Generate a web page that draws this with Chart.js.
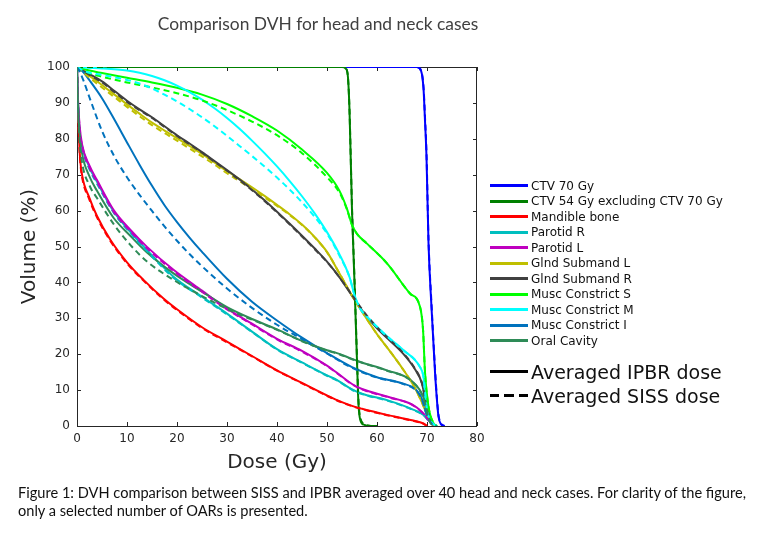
<!DOCTYPE html>
<html>
<head>
<meta charset="utf-8">
<title>Comparison DVH for head and neck cases</title>
<script src="https://cdn.jsdelivr.net/npm/chart.js@4.4.0/dist/chart.umd.min.js"></script>
<style>
  html, body { margin: 0; padding: 0; background: #fff; }
  #wrap { position: relative; width: 768px; height: 548px; overflow: hidden; }
  #dvh { position: absolute; left: 0; top: 0; }
  .title { position: absolute; left: 0; width: 636px; top: 13px; text-align: center;
           font: 17.4px Lato, sans-serif; color: #404040; }
  .legend { position: absolute; left: 490px; top: 178px; font: 12px "DejaVu Sans", sans-serif; color: #111; }
  .legend .row { display: flex; align-items: center; height: 15.5px; white-space: nowrap; }
  .legend .swatch { width: 38px; height: 3px; margin-right: 3px; }
  .legend .big { font-size: 19px; height: 24px; }
  .legend .big .swatch { height: 2.5px; }
  .legend .gap { height: 11px; }
  .caption { position: absolute; left: 18px; top: 484px; width: 750px; white-space: nowrap;
             font: 14.6px Lato, sans-serif; line-height: 17.5px; color: #111; }
</style>
</head>
<body>
<div id="wrap">
  <canvas id="dvh" width="768" height="548"></canvas>
  <div class="title">Comparison DVH for head and neck cases</div>
  <div class="legend" id="legend"></div>
  <div class="caption">Figure 1: DVH comparison between SISS and IPBR averaged over 40 head and neck cases. For clarity of the figure,<br>only a selected number of OARs is presented.</div>
</div>
<script>
// structures, in legend order
const names = ['CTV 70 Gy', 'CTV 54 Gy excluding CTV 70 Gy', 'Mandible bone', 'Parotid R', 'Parotid L',
  'Glnd Submand L', 'Glnd Submand R', 'Musc Constrict S', 'Musc Constrict M', 'Musc Constrict I', 'Oral Cavity'];
const colors = ['#0000ff', '#008000', '#ff0000', '#00bfbf', '#bf00bf',
  '#bfbf00', '#404040', '#00ff00', '#00ffff', '#0072bd', '#2e8b57'];

const doseTicks = [0, 10, 20, 30, 40, 50, 60, 70, 80];
const volumeTicks = [0, 10, 20, 30, 40, 50, 60, 70, 80, 90, 100];

// dose (Gy) -> volume (%), IPBR = solid, SISS = dashed
const ctv70Dose = [0, 68, 68.8, 69.3, 69.6, 69.9, 70.3, 70.9, 71.6, 72, 72.3, 72.8, 73.5];
const ctv70Ipbr = [100, 100, 99, 94, 85, 75, 51, 33, 15, 7, 2.6, 0.5, 0];
const ctv70Siss = [100, 100, 99, 94.5, 86, 76, 52, 34, 16, 7.5, 3, 0.7, 0];

const ctv54Dose = [0, 53, 53.8, 54.2, 54.5, 55, 55.5, 56, 56.3, 56.7, 57.5, 58.5, 60];
const ctv54Ipbr = [100, 100, 99.5, 97, 88, 60, 40, 18, 6, 1.5, 0.3, 0, 0];
const ctv54Siss = [100, 100, 99.5, 97, 88, 61, 41, 19, 7, 2, 0.5, 0.1, 0];

const mandibleDose = [0, 0.1, 0.3, 0.6, 1, 2.5, 4, 6.7, 10, 13.3, 17.3, 20, 25, 30, 35, 40, 45, 50, 52, 55, 57, 62, 67, 69.3, 70];
const mandibleIpbr = [100, 92, 84, 75, 70, 63.5, 58.5, 51.8, 45.6, 40.7, 35.5, 32.5, 27.5, 23.5, 19.5, 15.5, 12, 8.5, 7.2, 5.6, 4.8, 3.1, 1.6, 0.7, 0];
const mandibleSiss = [100, 91.5, 83.5, 74.5, 69.5, 63, 58.1, 51.5, 45.3, 40.5, 35.3, 32.3, 27.3, 23.3, 19.4, 15.4, 11.9, 8.4, 7.1, 5.5, 4.7, 3, 1.5, 0.6, 0];

const parotidDose = [0, 0.2, 0.5, 1, 2.5, 4, 7.3, 10.7, 14, 19.3, 25, 30, 35, 40, 45, 50, 52, 55, 57, 62, 67, 69.3, 70.6, 71.6];
const parotidRIpbr = [100, 90, 82.5, 78, 72, 68, 59.8, 54, 49, 41.6, 36, 31.3, 26.3, 21.4, 17.7, 14.1, 12.8, 10.2, 9, 7.2, 4.7, 3.1, 1.2, 0];
const parotidRSiss = [100, 89.5, 82, 77.5, 71.5, 67.5, 59.5, 53.7, 48.7, 41.3, 35.8, 31.1, 26.2, 21.3, 17.6, 14, 12.7, 10.1, 8.9, 7.1, 4.6, 3, 1.1, 0];
const parotidLIpbr = [100, 91, 84, 78.5, 72.5, 68.5, 60.2, 54.6, 49.9, 43.5, 37.7, 32.7, 28.5, 24.3, 20.9, 16.8, 14.8, 11.7, 10.3, 8.2, 6, 3.5, 1.2, 0];
const parotidLSiss = [100, 90.5, 83.5, 78, 72, 68, 59.8, 54.2, 49.5, 43.2, 37.4, 32.5, 28.3, 24.1, 20.7, 16.7, 14.7, 11.6, 10.2, 8.1, 5.9, 3.4, 1.1, 0];

const glndDose = [0, 2.5, 5, 7.5, 10, 12.5, 15, 17.5, 20, 22.5, 25, 27.5, 30, 32.5, 35, 37.5, 40, 42.5, 45, 47.5, 50, 52.5, 55, 57.5, 60, 62.5, 65, 67.5, 69, 70, 71, 71.5];
const glndLIpbr = [100, 97.5, 95, 92.3, 89.6, 87, 84.5, 82.3, 80.2, 78, 75.8, 73.4, 71, 68.8, 66.5, 64.1, 61.6, 59, 56.1, 52.7, 48.5, 42.5, 36.3, 30.8, 25.6, 21, 16.2, 10.8, 6.5, 3.2, 0.6, 0];
const glndLSiss = [100, 97, 94.3, 91.6, 88.9, 86.3, 83.8, 81.6, 79.5, 77.3, 75.1, 72.8, 70.4, 68.2, 66, 63.7, 61.3, 58.8, 56, 52.6, 48.4, 42.5, 36.3, 30.8, 25.6, 21, 16.2, 10.8, 6.5, 3.2, 0.6, 0];
const glndRIpbr = [100, 98, 96, 93.3, 90.6, 88.2, 86, 83.5, 81, 78.7, 76.3, 73.8, 71.3, 68.7, 65.9, 62.9, 59.7, 56.4, 53, 49.5, 45.8, 41.4, 36.3, 31.3, 27.2, 23.9, 20.5, 16, 11.8, 5, 0.6, 0];
const glndRSiss = [100, 97.8, 95.7, 93, 90.3, 88, 85.8, 83.3, 80.8, 78.5, 76.1, 73.6, 71.1, 68.5, 65.7, 62.7, 59.5, 56.2, 52.8, 49.3, 45.7, 41.4, 36.5, 31.6, 27.5, 24.1, 20.7, 16.2, 11.9, 5, 0.6, 0];

const muscSDose = [0, 2.5, 5, 10, 15, 20, 25, 30, 35, 40, 45, 50, 52.5, 54, 55, 56, 58, 62, 66.6, 68.6, 69.2, 69.6, 70.3, 71.3, 72];
const muscSIpbr = [100, 99, 98.3, 97, 95.7, 94.2, 92.3, 89.7, 86.3, 82.3, 77, 70.5, 65.5, 60.5, 56, 53.5, 50.8, 45.3, 36.9, 33.2, 27, 15, 5.4, 0.8, 0];
const muscSSiss = [100, 98.3, 97.3, 95.7, 94.3, 92.7, 90.7, 88, 84.8, 81, 76, 69.3, 65, 60.3, 56, 53.5, 50.8, 45.3, 36.9, 33.2, 27, 15, 5.4, 0.8, 0];

const muscMDose = [0, 2, 5, 10, 12.5, 15, 17.5, 20, 22.5, 25, 27.5, 30, 32.5, 35, 37.5, 40, 42.5, 45, 47.5, 50, 52.5, 54.5, 55.5, 56.5, 58.6, 62, 65.3, 68.6, 69.3, 69.9, 70.5, 71.3, 72];
const muscMIpbr = [100, 99.8, 99.6, 99, 98.4, 97.5, 96.3, 94.8, 93, 90.9, 88.5, 85.8, 82.8, 79.5, 76, 72.3, 68.3, 64, 59.3, 54, 47.8, 41.5, 36.5, 33, 29.6, 25, 21.1, 16.4, 13.7, 5.4, 2, 0.5, 0];
const muscMSiss = [100, 98.6, 97.8, 96.4, 95.4, 94, 92.3, 90.4, 88.3, 86, 83.5, 80.8, 78, 75.2, 72.3, 69.2, 65.9, 62.3, 58.3, 53.6, 47.4, 41.5, 36.5, 33, 29.6, 25, 21.1, 16.4, 13.7, 5.4, 2, 0.5, 0];

const muscIDose = [0, 0.5, 1.3, 2.5, 5, 7.5, 10, 12.5, 15, 17.5, 20, 22.5, 25, 30, 35, 40, 45, 50, 55, 60, 65, 67.9, 69, 69.9, 71.2, 72];
const muscIIpbr = [100, 99.5, 98.5, 96.3, 91.3, 85.3, 79, 72.8, 66.9, 61.5, 56.8, 52.5, 48.5, 41, 34.6, 29.4, 24.6, 20.3, 16.4, 13.6, 11.9, 10, 7.5, 3.5, 0.3, 0];
const muscISiss = [100, 98.8, 96.2, 91.5, 82.2, 75, 69.3, 64.4, 59.9, 55.6, 51.6, 47.9, 44.5, 38.3, 32.9, 28.2, 24.2, 20.2, 16.2, 13.5, 11.8, 9.8, 7.3, 3.3, 0.3, 0];

const oralIpbr = [100, 90, 82, 76, 69.5, 65.5, 58, 52.9, 48.3, 42.5, 37.4, 33.1, 29.8, 26.9, 23.7, 21.1, 20.3, 18.7, 17.7, 15.5, 12.5, 8, 1.2, 0];
const oralSiss = [100, 89, 80, 73.5, 67, 63.5, 56.3, 50.4, 45.8, 40.7, 36.2, 32.6, 29.6, 26.8, 23.6, 21, 20.2, 18.6, 17.6, 15.4, 12.4, 7.8, 1.1, 0];

const doses = [ctv70Dose, ctv54Dose, mandibleDose, parotidDose, parotidDose, glndDose, glndDose, muscSDose, muscMDose, muscIDose, parotidDose];
const ipbr = [ctv70Ipbr, ctv54Ipbr, mandibleIpbr, parotidRIpbr, parotidLIpbr, glndLIpbr, glndRIpbr, muscSIpbr, muscMIpbr, muscIIpbr, oralIpbr];
const siss = [ctv70Siss, ctv54Siss, mandibleSiss, parotidRSiss, parotidLSiss, glndLSiss, glndRSiss, muscSSiss, muscMSiss, muscISiss, oralSiss];

function points(d, v) {
  return d.map((x, i) => ({ x: x, y: v[i] }));
}

// later curves on top, dashed set plotted after solid set
const datasets = [];
names.forEach((n, i) => datasets.push({
  label: n + ' IPBR', data: points(doses[i], ipbr[i]), borderColor: colors[i],
  borderWidth: 2, pointRadius: 0, fill: false, cubicInterpolationMode: 'monotone', order: -i
}));
names.forEach((n, i) => datasets.push({
  label: n + ' SISS', data: points(doses[i], siss[i]), borderColor: colors[i],
  borderWidth: 2, borderDash: [6, 4], pointRadius: 0, fill: false, cubicInterpolationMode: 'monotone', order: -(names.length + i)
}));

// axes box with inward ticks, like the original figure
const boxPlugin = {
  id: 'box',
  beforeDatasetsDraw(chart) {
    const { ctx, chartArea: a, scales: { x, y } } = chart;
    ctx.save();
    ctx.strokeStyle = '#262626';
    ctx.lineWidth = 1;
    ctx.strokeRect(a.left + 0.5, a.top + 0.5, a.right - a.left - 1, a.bottom - a.top);
    ctx.beginPath();
    x.ticks.forEach(t => {
      const px = Math.round(x.getPixelForValue(t.value)) + 0.5;
      ctx.moveTo(px, a.bottom); ctx.lineTo(px, a.bottom - 4);
      ctx.moveTo(px, a.top); ctx.lineTo(px, a.top + 4);
    });
    y.ticks.forEach(t => {
      const py = Math.round(y.getPixelForValue(t.value)) + 0.5;
      ctx.moveTo(a.left, py); ctx.lineTo(a.left + 4, py);
      ctx.moveTo(a.right, py); ctx.lineTo(a.right - 4, py);
    });
    ctx.stroke();
    ctx.restore();
  }
};

Chart.defaults.font.family = '"DejaVu Sans", sans-serif';
Chart.defaults.color = '#262626';

new Chart(document.getElementById('dvh'), {
  type: 'line',
  data: { datasets: datasets },
  options: {
    responsive: false,
    animation: false,
    layout: { padding: { left: 0, top: 67, right: 291, bottom: 0 } },
    plugins: { legend: { display: false }, tooltip: { enabled: false } },
    scales: {
      x: {
        type: 'linear', min: 0, max: 80,
        afterBuildTicks: s => { s.ticks = doseTicks.map(v => ({ value: v })); },
        afterFit: s => { s.height = 122; },
        grid: { display: false, drawTicks: false },
        border: { display: false },
        ticks: { padding: 6, font: { size: 12 }, maxRotation: 0 },
        title: { display: true, text: 'Dose (Gy)', font: { size: 20 }, padding: { top: 0, bottom: 73 } }
      },
      y: {
        type: 'linear', min: 0, max: 100,
        afterBuildTicks: s => { s.ticks = volumeTicks.map(v => ({ value: v })); },
        afterFit: s => { s.width = 77; },
        grid: { display: false, drawTicks: false },
        border: { display: false },
        ticks: { padding: 7, font: { size: 12 } },
        title: { display: true, text: 'Volume (%)', font: { size: 20 }, padding: { top: 18, bottom: 0 } }
      }
    }
  },
  plugins: [boxPlugin]
});

// legend built from the same names and colours
const legend = document.getElementById('legend');
names.forEach((n, i) => {
  const row = document.createElement('div');
  row.className = 'row';
  row.innerHTML = '<span class="swatch" style="background:' + colors[i] + '"></span><span>' + n + '</span>';
  legend.appendChild(row);
});
const gap = document.createElement('div');
gap.className = 'gap';
legend.appendChild(gap);
[['Averaged IPBR dose', '#000'],
 ['Averaged SISS dose', 'repeating-linear-gradient(90deg, #000 0 9px, transparent 9px 14.5px)']].forEach(s => {
  const row = document.createElement('div');
  row.className = 'row big';
  row.innerHTML = '<span class="swatch" style="background:' + s[1] + '"></span><span>' + s[0] + '</span>';
  legend.appendChild(row);
});
</script>
</body>
</html>
